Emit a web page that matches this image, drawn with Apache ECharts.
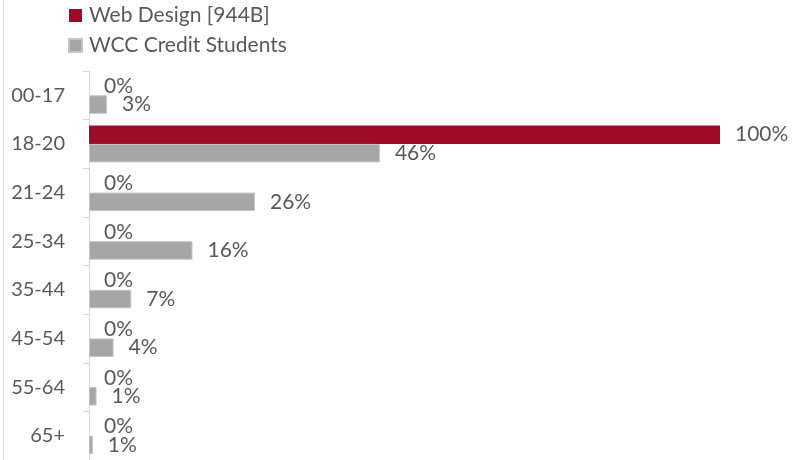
<!DOCTYPE html>
<html><head><meta charset="utf-8">
<script src="https://cdn.jsdelivr.net/npm/echarts@6/dist/echarts.min.js"></script>
<style>html,body{margin:0;padding:0;background:#fff}#c{width:796px;height:460px}</style>
</head><body><div id="c"></div>
<script>
var categories = ['00-17','18-20','21-24','25-34','35-44','45-54','55-64','65+'];
var seriesNames = ['Web Design [944B]','WCC Credit Students'];
var webDesign = [0,100,0,0,0,0,0,0];
var wccStudents = [2.85,46.1,26.3,16.4,6.7,3.9,1.2,0.6];

var FONT = 'Lato';
var TXT = '#595959';
var chart = echarts.init(document.getElementById('c'), null, {renderer:'canvas'});
function lbl(){
  return {show:true, position:'right', distance:15, color:TXT, fontFamily:FONT, fontSize:21,
    formatter:function(p){return Math.round(p.value)+'%';}};
}
chart.setOption({
  animation:false,
  graphic:[{type:'line', shape:{x1:3.5,y1:0,x2:3.5,y2:460}, style:{stroke:'#d9d9d9', lineWidth:1}}],
  legend:{orient:'vertical', left:63, top:0, itemWidth:13, itemHeight:13, itemGap:9,
    icon:'rect', textStyle:{color:TXT, fontFamily:FONT, fontSize:21, padding:[0,0,0,2]},
    data:seriesNames},
  grid:{left:89, right:76, top:71, bottom:0, containLabel:false},
  xAxis:{type:'value', min:0, max:100, show:false, splitLine:{show:false}},
  yAxis:{type:'category', data:categories, inverse:true,
    axisLine:{show:true, lineStyle:{color:'#d9d9d9', width:1}},
    axisTick:{show:true, length:6, lineStyle:{color:'#d9d9d9'}},
    axisLabel:{margin:24, color:TXT, fontFamily:FONT, fontSize:20}},
  series:[
    {name:seriesNames[0], type:'bar', data:webDesign, barGap:'0%', barCategoryGap:'24%',
     itemStyle:{color:'#9e0b28'}, label:lbl()},
    {name:seriesNames[1], type:'bar', data:wccStudents, barGap:'0%', barCategoryGap:'24%',
     itemStyle:{color:'#a6a6a6', borderColor:'#c4c4c4', borderWidth:1}, label:lbl()}
  ]
});
</script></body></html>
